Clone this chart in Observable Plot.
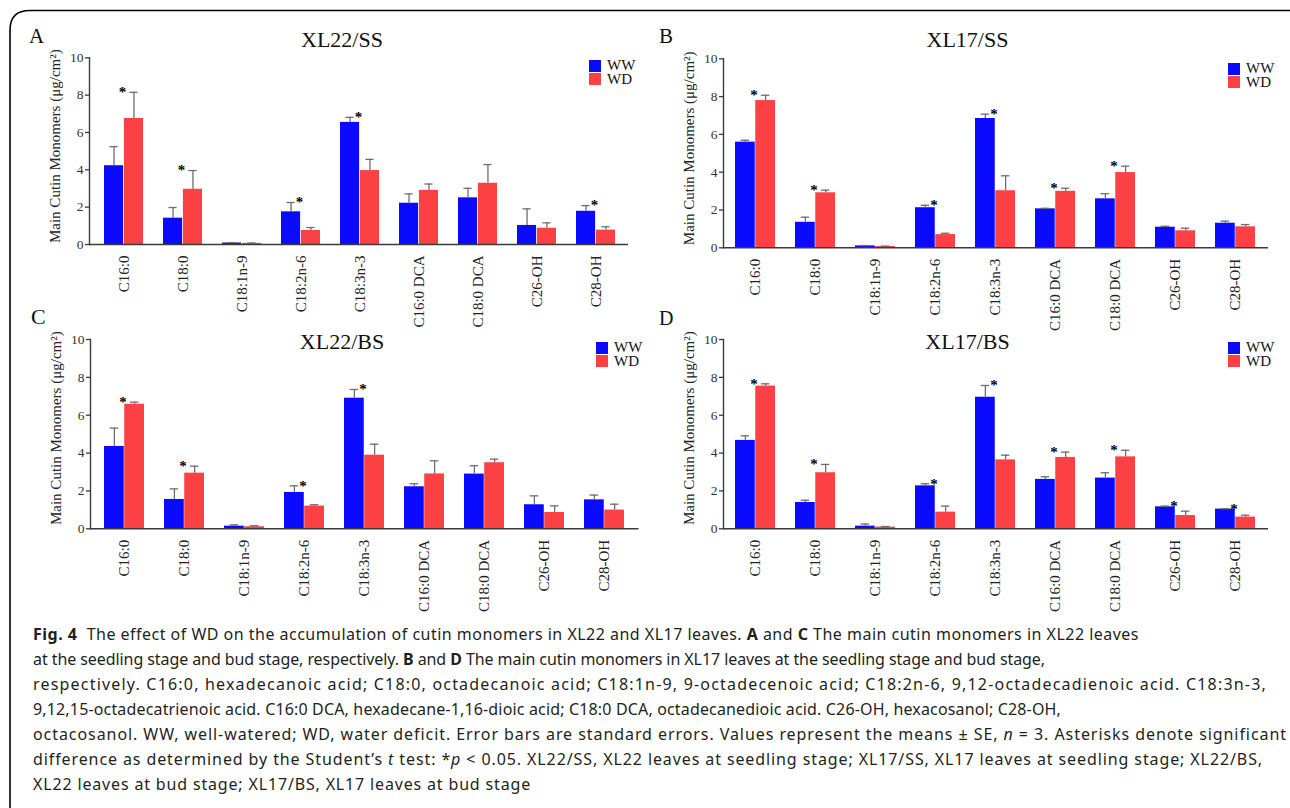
<!DOCTYPE html>
<html>
<head>
<meta charset="utf-8">
<script src="https://cdn.jsdelivr.net/npm/d3@7"></script>
<script src="https://cdn.jsdelivr.net/npm/@observablehq/plot@0.6"></script>
<style>
  html, body { margin: 0; padding: 0; background: #fff; }
  body { width: 1290px; height: 808px; overflow: hidden; position: relative; }
  #frame { position: absolute; left: 0; top: 0; width: 1290px; height: 808px; z-index: 100; pointer-events: none; }
  .panel { position: absolute; z-index: 1; }
  .title { position: absolute; font-family: "Liberation Serif", "Times New Roman", serif; color: #111; line-height: 1; white-space: nowrap; z-index: 2; }
  .letter { position: absolute; font-family: "Liberation Serif", "Times New Roman", serif; color: #111; line-height: 1; z-index: 2; }
  .legend { position: absolute; font-family: "Liberation Serif", "Times New Roman", serif; font-size: 15px; color: #111; z-index: 2; }
  .legend .row { display: flex; align-items: center; height: 13.5px; }
  .legend .sw { width: 12px; height: 12px; margin-right: 6px; }
  .caption { position: absolute; left: 33px; top: 622px; font-family: "Noto Sans", "Open Sans", sans-serif; font-size: 16px; color: #231f20; z-index: 2; }
  .caption div { height: 25px; line-height: 25px; white-space: nowrap; }
  .caption b { font-weight: 700; }
</style>
</head>
<body>
<div id="root"></div>
<div class="caption" id="caption">
  <div data-end="1139"><b>Fig. 4</b>&nbsp; The effect of WD on the accumulation of cutin monomers in XL22 and XL17 leaves. <b>A</b> and <b>C</b> The main cutin monomers in XL22 leaves</div>
  <div data-end="1045">at the seedling stage and bud stage, respectively. <b>B</b> and <b>D</b> The main cutin monomers in XL17 leaves at the seedling stage and bud stage,</div>
  <div data-end="1267">respectively. C16:0, hexadecanoic acid; C18:0, octadecanoic acid; C18:1n-9, 9-octadecenoic acid; C18:2n-6, 9,12-octadecadienoic acid. C18:3n-3,</div>
  <div data-end="1061">9,12,15-octadecatrienoic acid. C16:0 DCA, hexadecane-1,16-dioic acid; C18:0 DCA, octadecanedioic acid. C26-OH, hexacosanol; C28-OH,</div>
  <div data-end="1287">octacosanol. WW, well-watered; WD, water deficit. Error bars are standard errors. Values represent the means ± SE, <i>n</i> = 3. Asterisks denote significant</div>
  <div data-end="1263">difference as determined by the Student’s <i>t</i> test: *<i>p</i> &lt; 0.05. XL22/SS, XL22 leaves at seedling stage; XL17/SS, XL17 leaves at seedling stage; XL22/BS,</div>
  <div data-end="531">XL22 leaves at bud stage; XL17/BS, XL17 leaves at bud stage</div>
</div>
<svg id="frame" width="1290" height="808" viewBox="0 0 1290 808">
  <path d="M 10 830 L 10 30 Q 10 10.5 30 10.5 L 1320 10.5" fill="none" stroke="#000" stroke-width="1.6"/>
</svg>
<script>
// ---------- data ----------
const categories = ["C16:0", "C18:0", "C18:1n-9", "C18:2n-6", "C18:3n-3", "C16:0 DCA", "C18:0 DCA", "C26-OH", "C28-OH"];
const treatments = ["WW", "WD"];
const yTicks = [0, 2, 4, 6, 8, 10];

// Panel A: XL22/SS
const wwA   = [4.22, 1.41, 0.08, 1.75, 6.54, 2.21, 2.50, 1.02, 1.78];
const wwSeA = [1.02, 0.57, 0.02, 0.50, 0.27, 0.50, 0.51, 0.89, 0.30];
const wdA   = [6.75, 2.96, 0.06, 0.75, 3.96, 2.90, 3.28, 0.87, 0.77];
const wdSeA = [1.40, 1.00, 0.02, 0.16, 0.60, 0.34, 1.00, 0.29, 0.18];
const starsA = ["C16:0", "C18:0", "C18:2n-6", "C18:3n-3", "C28-OH"];

// Panel B: XL17/SS
const wwB   = [5.59, 1.35, 0.10, 2.12, 6.84, 2.06, 2.59, 1.09, 1.30];
const wwSeB = [0.10, 0.27, 0.02, 0.13, 0.23, 0.03, 0.27, 0.05, 0.11];
const wdB   = [7.79, 2.91, 0.07, 0.70, 3.02, 2.99, 3.98, 0.90, 1.11];
const wdSeB = [0.28, 0.14, 0.02, 0.07, 0.79, 0.16, 0.34, 0.14, 0.12];
const starsB = ["C16:0", "C18:0", "C18:2n-6", "C18:3n-3", "C16:0 DCA", "C18:0 DCA"];

// Panel C: XL22/BS
const wwC   = [4.35, 1.55, 0.14, 1.92, 6.90, 2.22, 2.89, 1.27, 1.53];
const wwSeC = [0.97, 0.56, 0.07, 0.35, 0.46, 0.16, 0.44, 0.47, 0.25];
const wdC   = [6.58, 2.94, 0.11, 1.20, 3.89, 2.90, 3.49, 0.86, 0.99];
const wdSeC = [0.11, 0.37, 0.05, 0.07, 0.58, 0.69, 0.19, 0.35, 0.31];
const starsC = ["C16:0", "C18:0", "C18:2n-6", "C18:3n-3"];

// Panel D: XL17/BS
const wwD   = [4.67, 1.39, 0.14, 2.27, 6.95, 2.61, 2.68, 1.16, 1.04];
const wwSeD = [0.24, 0.12, 0.11, 0.11, 0.62, 0.14, 0.28, 0.04, 0.02];
const wdD   = [7.54, 2.96, 0.09, 0.88, 3.64, 3.77, 3.80, 0.70, 0.62];
const wdSeD = [0.12, 0.44, 0.03, 0.32, 0.25, 0.28, 0.35, 0.23, 0.10];
const starsD = ["C16:0", "C18:0", "C18:2n-6", "C18:3n-3", "C16:0 DCA", "C18:0 DCA", "C26-OH", "C28-OH"];

const yLabel = "Main Cutin Monomers (μg/cm²)";

// ---------- style ----------
const BLUE = "#0a0aff";
const RED = "#fb4143";
const ERR = "#6e6e6e";
const AXIS = "#3a3a3a";
const SERIF = '"Liberation Serif", "Times New Roman", serif';
const PAD = 0.333;

const panels = [
  {id: "A", title: "XL22/SS", ww: wwA, wwSe: wwSeA, wd: wdA, wdSe: wdSeA, stars: starsA,
   left: 0, top: 0, ml: 89, mr: 17, mt: 57.3, mb: 86, il: 11.5, ir: 10, labelDy: -5,
   letter: {x: 29, y: 25.5, size: 21}, titleY: 29, titleX: 342, legend: {x: 589, y: 59}},
  {id: "B", title: "XL17/SS", ww: wwB, wwSe: wwSeB, wd: wdB, wdSe: wdSeB, stars: starsB,
   left: 640, top: 0, ml: 83, mr: 17, mt: 58.3, mb: 82.7, il: 9, ir: 9.5, labelDy: -5,
   letter: {x: 659, y: 25.5, size: 21}, titleY: 29, titleX: 967.5, legend: {x: 1228, y: 62}},
  {id: "C", title: "XL22/BS", ww: wwC, wwSe: wwSeC, wd: wdC, wdSe: wdSeC, stars: starsC,
   left: 0, top: 300, ml: 90, mr: 6.5, mt: 39, mb: 101.7, il: 11.5, ir: 11, labelDy: -6,
   letter: {x: 31, y: 306, size: 22}, titleY: 331, titleX: 342, legend: {x: 596, y: 341}},
  {id: "D", title: "XL17/BS", ww: wwD, wwSe: wwSeD, wd: wdD, wdSe: wdSeD, stars: starsD,
   left: 640, top: 300, ml: 83, mr: 17, mt: 39, mb: 101.7, il: 9, ir: 9.5, labelDy: -6,
   letter: {x: 659, y: 308, size: 20}, titleY: 331, titleX: 967.5, legend: {x: 1228, y: 341}}
];

const W = 645, H = 330;
const root = document.getElementById("root");

for (const p of panels) {
  const rows = categories.map((c, i) => ({
    cat: c, ww: p.ww[i], wwSe: p.wwSe[i], wd: p.wd[i], wdSe: p.wdSe[i], star: p.stars.includes(c)
  }));
  const innerW = W - p.ml - p.mr - p.il - p.ir;
  const step = innerW / (categories.length - PAD);
  const bw = step * (1 - PAD);
  const half = bw / 2;
  const cap = 4.5;

  const chart = Plot.plot({
    width: W, height: H,
    marginLeft: p.ml, marginRight: p.mr, marginTop: p.mt, marginBottom: p.mb,
    style: `background: transparent; overflow: visible; font-family: ${SERIF}; color: #222;`,
    x: {domain: categories, paddingInner: PAD, paddingOuter: 0, insetLeft: p.il, insetRight: p.ir, label: null},
    y: {domain: [0, 10], label: null},
    marks: [
      Plot.barY(rows, {x: "cat", y: "ww", fill: BLUE, insetRight: half}),
      Plot.barY(rows, {x: "cat", y: "wd", fill: RED, insetLeft: half}),
      Plot.ruleX(rows, {x: "cat", y1: "ww", y2: d => d.ww + d.wwSe, dx: -half / 2, stroke: ERR, strokeWidth: 1.3}),
      Plot.ruleX(rows, {x: "cat", y1: "wd", y2: d => d.wd + d.wdSe, dx: half / 2, stroke: ERR, strokeWidth: 1.3}),
      Plot.tickY(rows, {x: "cat", y: d => d.ww + d.wwSe, insetLeft: half / 2 - cap, insetRight: bw - half / 2 - cap, stroke: ERR, strokeWidth: 1.3}),
      Plot.tickY(rows, {x: "cat", y: d => d.wd + d.wdSe, insetLeft: half * 1.5 - cap, insetRight: half / 2 - cap, stroke: ERR, strokeWidth: 1.3}),
      Plot.text(rows.filter(d => d.star), {
        x: "cat", y: d => Math.max(d.ww + d.wwSe, d.wd + d.wdSe), text: () => "*",
        dx: -1.5, dy: 0, lineAnchor: "middle", fontSize: 15, fontWeight: "bold", fill: "#000"
      }),
      Plot.ruleY([0], {stroke: AXIS, strokeWidth: 1.4}),
      Plot.frame({anchor: "left", stroke: AXIS, strokeWidth: 1.4}),
      Plot.axisY({ticks: yTicks, tickSize: 4, tickPadding: 2, fontSize: 13.5, label: null, stroke: AXIS, strokeWidth: 1.3, fill: "#333"}),
      Plot.axisX({tickSize: 0, tickPadding: 11, tickRotate: -90, fontSize: 15, label: null, fill: "#222"}),
      Plot.text([yLabel], {
        text: d => d, frameAnchor: "left", rotate: -90, lineAnchor: "top", textAnchor: "middle",
        dx: -40, dy: p.labelDy, fontSize: 15, fill: "#222"
      })
    ]
  });
  const holder = document.createElement("div");
  holder.className = "panel";
  holder.style.left = p.left + "px";
  holder.style.top = p.top + "px";
  holder.appendChild(chart);
  root.appendChild(holder);

  const letter = document.createElement("div");
  letter.className = "letter";
  letter.textContent = p.id;
  letter.style.left = p.letter.x + "px";
  letter.style.top = p.letter.y + "px";
  letter.style.fontSize = p.letter.size + "px";
  root.appendChild(letter);

  const title = document.createElement("div");
  title.className = "title";
  title.textContent = p.title;
  title.style.fontSize = "22px";
  title.style.top = p.titleY + "px";
  title.style.left = p.titleX + "px";
  title.style.transform = "translateX(-50%)";
  root.appendChild(title);

  const legend = document.createElement("div");
  legend.className = "legend";
  legend.style.left = p.legend.x + "px";
  legend.style.top = p.legend.y + "px";
  treatments.forEach((t, i) => {
    const row = document.createElement("div");
    row.className = "row";
    const sw = document.createElement("div");
    sw.className = "sw";
    sw.style.background = i === 0 ? BLUE : RED;
    const lab = document.createElement("span");
    lab.textContent = t;
    row.appendChild(sw);
    row.appendChild(lab);
    legend.appendChild(row);
  });
  root.appendChild(legend);
}

// fit caption lines to their measured extents
for (const line of document.querySelectorAll("#caption div")) {
  const target = +line.dataset.end - 33;
  line.style.display = "inline-block";
  const w = line.getBoundingClientRect().width;
  const n = line.textContent.length;
  line.style.letterSpacing = ((target - w) / n) + "px";
  line.style.display = "block";
}
</script>
</body>
</html>
